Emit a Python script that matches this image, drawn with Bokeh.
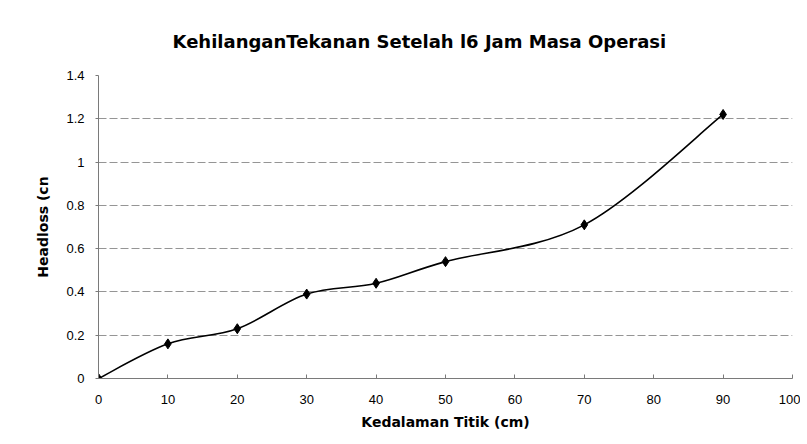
from bokeh.plotting import figure
from bokeh.models import Range1d, FixedTicker
from bokeh.embed import file_html
from bokeh.resources import INLINE

# ---- data ----
depth = [0, 10, 20, 30, 40, 50, 70, 90]
headloss = [0, 0.16, 0.23, 0.39, 0.44, 0.54, 0.71, 1.22]
x_ticks = [0, 10, 20, 30, 40, 50, 60, 70, 80, 90, 100]
y_ticks = [0, 0.2, 0.4, 0.6, 0.8, 1, 1.2, 1.4]
y_tick_labels = ["0", "0.2", "0.4", "0.6", "0.8", "1", "1.2", "1.4"]
title_text = "KehilanganTekanan Setelah l6 Jam Masa Operasi"
x_label = "Kedalaman Titik (cm)"
y_label = "Headloss (cn"

# smoothed (Excel-like) curve: cubic Bezier control points from neighbours
n = len(depth)
x0s, y0s, x1s, y1s, cx0, cy0, cx1, cy1 = [], [], [], [], [], [], [], []
for i in range(n - 1):
    pm = (depth[max(i - 1, 0)], headloss[max(i - 1, 0)])
    p0 = (depth[i], headloss[i])
    p1 = (depth[i + 1], headloss[i + 1])
    pp = (depth[min(i + 2, n - 1)], headloss[min(i + 2, n - 1)])
    x0s.append(p0[0]); y0s.append(p0[1]); x1s.append(p1[0]); y1s.append(p1[1])
    cx0.append(p0[0] + (p1[0] - pm[0]) / 6.0)
    cy0.append(p0[1] + (p1[1] - pm[1]) / 6.0)
    cx1.append(p1[0] - (pp[0] - p0[0]) / 6.0)
    cy1.append(p1[1] - (pp[1] - p0[1]) / 6.0)

p = figure(width=800, height=440, output_backend="svg", toolbar_location=None,
           x_range=Range1d(0, 100), y_range=Range1d(0, 1.4),
           min_border_left=98, min_border_right=8, min_border_top=75,
           min_border_bottom=62)
p.outline_line_color = None
p.background_fill_color = "white"
p.border_fill_color = "white"

# title
p.title.text = title_text
p.title.align = "left"
p.title.offset = 74
p.title.text_font = "DejaVu Sans"
p.title.text_font_size = "18px"
p.title.text_font_style = "bold"
p.title.text_color = "black"
p.title.standoff = 48

# axes
p.xaxis.ticker = FixedTicker(ticks=x_ticks)
p.yaxis.ticker = FixedTicker(ticks=y_ticks)
p.yaxis.major_label_overrides = {v: s for v, s in zip(y_ticks, y_tick_labels)}
for ax in (p.xaxis, p.yaxis):
    ax.axis_line_color = "#7a7a7a"
    ax.major_tick_line_color = "#7a7a7a"
    ax.minor_tick_line_color = None
    ax.major_label_text_font = "Liberation Sans"
    ax.major_label_text_font_size = "13px"
    ax.major_label_text_color = "black"
    ax.axis_label_text_font = "DejaVu Sans"
    ax.axis_label_text_font_size = "14px"
    ax.axis_label_text_font_style = "bold"
    ax.axis_label_text_color = "black"
p.xaxis.major_tick_in = 4
p.xaxis.major_tick_out = 0
p.yaxis.major_tick_in = 0
p.yaxis.major_tick_out = 3
p.xaxis.major_label_standoff = 16
p.yaxis.major_label_standoff = 11
p.xaxis.axis_label = x_label
p.yaxis.axis_label = y_label
p.xaxis.axis_label_standoff = 7
p.yaxis.axis_label_standoff = 12

# grid
p.xgrid.visible = False
p.ygrid.ticker = FixedTicker(ticks=y_ticks)
p.ygrid.grid_line_color = "#959595"
p.ygrid.grid_line_dash = "8 3"
p.ygrid.grid_line_width = 1

# series
p.bezier(x0=x0s, y0=y0s, x1=x1s, y1=y1s, cx0=cx0, cy0=cy0, cx1=cx1, cy1=cy1,
         line_color="black", line_width=1.6)
p.scatter(depth, headloss, marker="diamond", size=10, fill_color="black",
          line_color="black")

open("out.html", "w").write(file_html(p, INLINE))
